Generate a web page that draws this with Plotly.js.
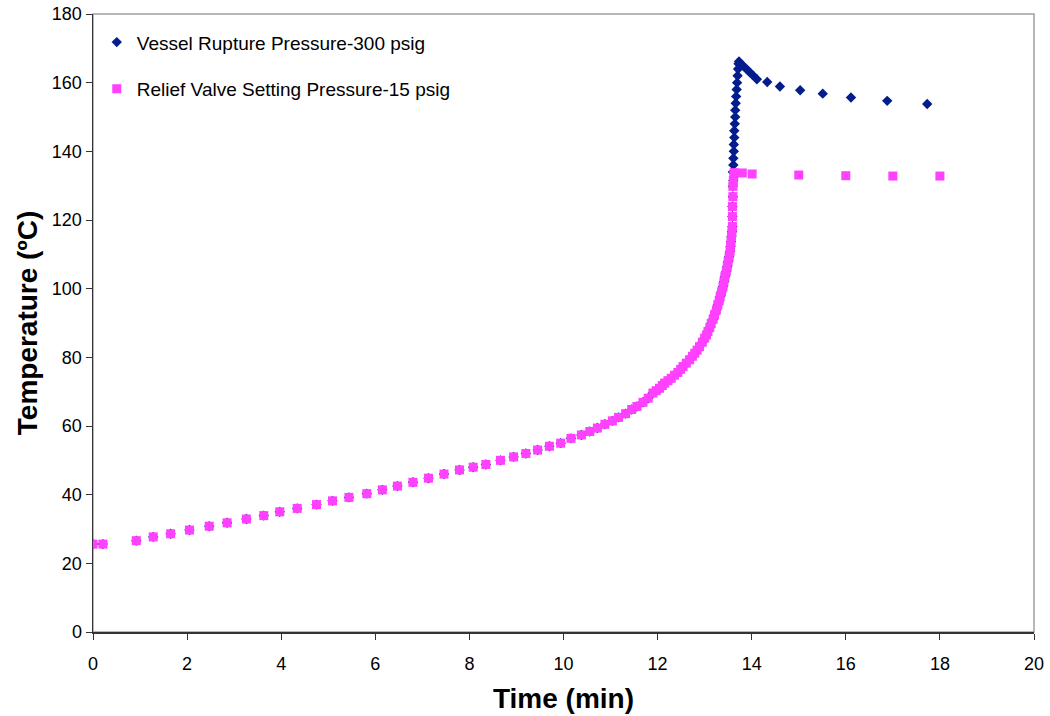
<!DOCTYPE html>
<html>
<head>
<meta charset="utf-8">
<script src="https://cdn.plot.ly/plotly-3.0.1.min.js"></script>
<style>
  html, body { margin: 0; padding: 0; background: #fff; }
  #chart { width: 1050px; height: 716px; }
</style>
</head>
<body>
<div id="chart"></div>
<script>
// Shared heating curve (both cases follow it until the relief valve opens)
const curveTime = [0, 0.21, 0.92, 1.28, 1.65, 2.05, 2.47, 2.85, 3.26, 3.63, 3.97, 4.34, 4.75, 5.09, 5.44, 5.82,
  6.15, 6.47, 6.80, 7.13, 7.46, 7.79, 8.08, 8.35, 8.66, 8.94, 9.20, 9.45, 9.70, 9.94, 10.16, 10.38, 10.56, 10.72,
  10.88, 11.04, 11.17, 11.32, 11.45, 11.56, 11.69, 11.80, 11.90, 11.97, 12.04, 12.10, 12.15, 12.22, 12.29, 12.36,
  12.43, 12.49, 12.54, 12.61, 12.68, 12.74, 12.79, 12.84, 12.89, 12.95, 13.00, 13.04, 13.07, 13.11, 13.14, 13.18,
  13.21, 13.25, 13.28, 13.31, 13.33, 13.36, 13.39, 13.41, 13.43, 13.46, 13.48, 13.50, 13.52, 13.54, 13.55, 13.56,
  13.57, 13.58, 13.59, 13.59, 13.59, 13.60, 13.60, 13.61];
const curveTemp = [25.6, 25.6, 26.6, 27.7, 28.6, 29.7, 30.8, 31.8, 32.9, 33.9, 35.0, 36.0, 37.1, 38.2, 39.2, 40.3,
  41.4, 42.5, 43.6, 44.8, 46.0, 47.2, 48.0, 48.8, 50.0, 51.0, 52.0, 53.0, 54.1, 55.0, 56.4, 57.4, 58.4, 59.4,
  60.5, 61.5, 62.5, 63.6, 64.8, 65.7, 66.9, 68.1, 69.6, 70.3, 71.0, 71.8, 72.5, 73.2, 73.9, 74.8,
  75.6, 76.5, 77.3, 78.3, 79.3, 80.3, 81.2, 82.1, 83.1, 84.4, 85.6, 86.5, 87.5, 88.7, 89.9, 91.1,
  92.4, 93.8, 95.3, 96.5, 97.7, 99.1, 100.6, 102.0, 103.5, 105.0, 106.4, 107.9, 109.3, 110.8, 112.3, 113.7,
  115.2, 116.6, 118.1, 121.0, 123.9, 126.8, 129.8, 131.5];

// Relief valve case: plateau after the valve lifts
const reliefTime = [13.62, 13.63, 13.80, 14.01, 15.0, 16.0, 17.0, 18.0];
const reliefTemp = [133.2, 133.8, 133.7, 133.4, 133.1, 132.9, 132.8, 132.8];

// Rupture case: steep rise then slow cooling
const ruptureTime = [13.60, 13.61, 13.61, 13.62, 13.62, 13.63, 13.63, 13.64, 13.65, 13.65, 13.66, 13.67, 13.68,
  13.69, 13.70, 13.71, 13.72, 13.73, 13.78, 13.84, 13.90, 13.96, 14.02, 14.11, 14.33, 14.60, 15.03, 15.51, 16.11,
  16.88, 17.73];
const ruptureTemp = [134, 136, 138, 140, 142, 144, 146, 148, 150, 152, 154, 156, 158,
  160, 162, 164, 165.5, 166.2, 165.4, 164.6, 163.8, 163.0, 162.2, 161.0, 160.2, 158.9, 157.8, 156.8, 155.7,
  154.7, 153.8];

const seriesNames = ['Vessel Rupture Pressure-300 psig', 'Relief Valve Setting Pressure-15 psig'];
const xTicks = [0, 2, 4, 6, 8, 10, 12, 14, 16, 18, 20];
const yTicks = [0, 20, 40, 60, 80, 100, 120, 140, 160, 180];

const blue = '#041C8C';
const pink = '#FF40FF';

const traces = [
  {
    x: curveTime.concat(ruptureTime),
    y: curveTemp.concat(ruptureTemp),
    name: seriesNames[0],
    legendgroup: 'a',
    mode: 'markers',
    type: 'scatter',
    marker: { symbol: 'diamond', size: 8, color: blue }
  },
  {
    x: curveTime.concat(reliefTime),
    y: curveTemp.concat(reliefTemp),
    name: seriesNames[1],
    legendgroup: 'b',
    mode: 'markers',
    type: 'scatter',
    marker: { symbol: 'square', size: 9, color: pink }
  }
];

const layout = {
  width: 1050,
  height: 716,
  margin: { l: 93, r: 16, t: 14, b: 84 },
  paper_bgcolor: '#ffffff',
  plot_bgcolor: '#ffffff',
  font: { family: 'Liberation Sans, Arial, sans-serif', color: '#000' },
  showlegend: true,
  legend: {
    x: 0.004, y: 0.985, xanchor: 'left', yanchor: 'top',
    bgcolor: 'rgba(0,0,0,0)',
    font: { size: 19, family: 'Liberation Sans, Arial, sans-serif' },
    traceorder: 'grouped',
    tracegroupgap: 19
  },
  xaxis: {
    range: [0, 20],
    tickvals: xTicks,
    ticktext: xTicks.map(String),
    ticks: 'outside', ticklen: 6, tickcolor: '#333',
    ticklabelstandoff: 9,
    showline: true, linecolor: '#333', linewidth: 1.5,
    showgrid: false, zeroline: false,
    tickfont: { size: 18 },
    title: { text: '<b>Time (min)</b>', font: { size: 28 }, standoff: 15 },
    automargin: false
  },
  yaxis: {
    range: [0, 180],
    tickvals: yTicks,
    ticktext: yTicks.map(String),
    ticks: 'outside', ticklen: 6, tickcolor: '#333',
    showline: true, linecolor: '#333', linewidth: 1.5,
    showgrid: false, zeroline: false,
    tickfont: { size: 18 },
    title: { text: '<b>Temperature (ºC)</b>', font: { size: 28 }, standoff: 6 },
    automargin: false
  },
  shapes: [{
    type: 'rect', xref: 'paper', yref: 'paper', x0: 0, x1: 1, y0: 0, y1: 1,
    line: { color: '#a0a0a0', width: 1.5 }, layer: 'below'
  }]
};

Plotly.newPlot('chart', traces, layout, { staticPlot: true, displayModeBar: false });
</script>
</body>
</html>
